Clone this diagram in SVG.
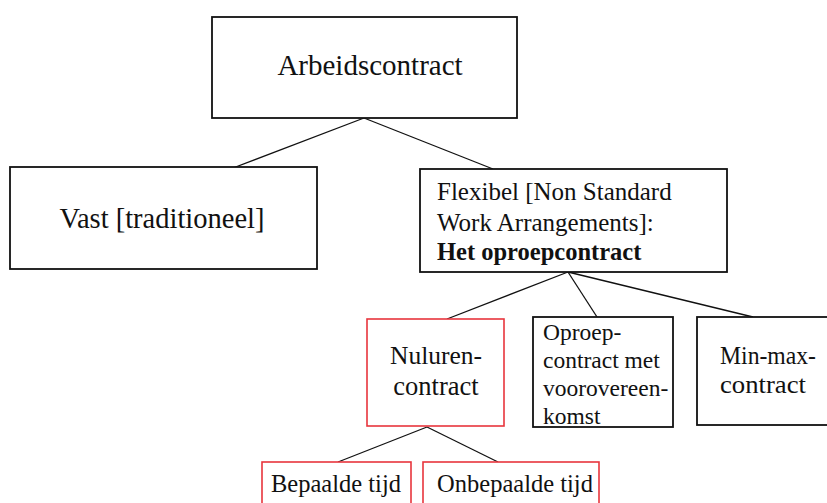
<svg xmlns="http://www.w3.org/2000/svg" width="827" height="503" viewBox="0 0 827 503">
<style>
.box{fill:#fff;stroke:#111;stroke-width:1.8}
.red{fill:#fff;stroke:#e8353d;stroke-width:1.6}
.t{font-family:"Liberation Serif","Times New Roman",serif;fill:#111}
.c{stroke:#111;stroke-width:1.3;fill:none}
</style>
<rect width="827" height="503" fill="#fff"/>
<g id="connectors">
<line class="c" x1="364" y1="118" x2="233" y2="168"/>
<line class="c" x1="364" y1="118" x2="493" y2="169"/>
<line class="c" x1="568" y1="272" x2="447" y2="319"/>
<line class="c" x1="568" y1="272" x2="597" y2="317"/>
<line class="c" x1="568" y1="272" x2="753" y2="317"/>
<line class="c" x1="427" y1="427" x2="338" y2="462"/>
<line class="c" x1="427" y1="427" x2="498" y2="462"/>
</g>
<g id="arbeidscontract">
<rect class="box" x="212" y="17" width="305" height="101"/>
<text class="t" x="370" y="75" font-size="29" text-anchor="middle">Arbeidscontract</text>
</g>
<g id="vast">
<rect class="box" x="10" y="167" width="307" height="102"/>
<text class="t" x="162" y="228" font-size="28.5" text-anchor="middle">Vast [traditioneel]</text>
</g>
<g id="flexibel">
<rect class="box" x="420" y="169" width="307" height="103"/>
<text class="t" x="437" y="200" font-size="25">Flexibel [Non Standard</text>
<text class="t" x="437" y="231" font-size="25">Work Arrangements]:</text>
<text class="t" x="437" y="260" font-size="24.5" font-weight="bold">Het oproepcontract</text>
</g>
<g id="nuluren">
<rect class="red" x="367" y="319" width="137" height="107"/>
<text class="t" x="436" y="364" font-size="25.5" text-anchor="middle">Nuluren-</text>
<text class="t" x="436" y="395" font-size="26.5" text-anchor="middle">contract</text>
</g>
<g id="oproep">
<rect class="box" x="533" y="317" width="140" height="110"/>
<text class="t" x="543" y="340" font-size="23.5">Oproep-</text>
<text class="t" x="543" y="368" font-size="23.5">contract met</text>
<text class="t" x="543" y="396" font-size="23.5">voorovereen-</text>
<text class="t" x="543" y="424" font-size="23.5">komst</text>
</g>
<g id="minmax">
<rect class="box" x="697" y="317" width="140" height="108"/>
<text class="t" x="720" y="364" font-size="25" textLength="96" lengthAdjust="spacingAndGlyphs">Min-max-</text>
<text class="t" x="720" y="393" font-size="26" textLength="86" lengthAdjust="spacingAndGlyphs">contract</text>
</g>
<g id="bepaalde">
<rect class="red" x="262" y="462" width="149" height="50"/>
<text class="t" x="336" y="492" font-size="24.5" text-anchor="middle">Bepaalde tijd</text>
</g>
<g id="onbepaalde">
<rect class="red" x="423" y="462" width="176" height="50"/>
<text class="t" x="515" y="492" font-size="24.5" text-anchor="middle">Onbepaalde tijd</text>
</g>
</svg>
